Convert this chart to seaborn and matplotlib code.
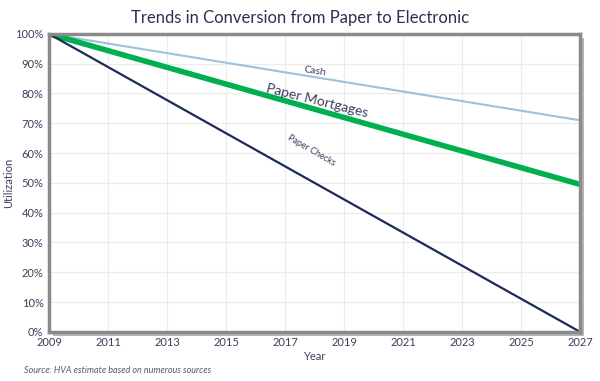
import matplotlib
matplotlib.use("Agg")
import matplotlib.pyplot as plt
import matplotlib.patches as mpatches
import seaborn as sns
import pandas as pd

years = [2009, 2027]
cash = [100, 71]
mortgages = [100, 49.5]
checks = [100, 0]

series_names = ["Cash", "Paper Mortgages", "Paper Checks"]
series_colors = {"Cash": "#9dc0dc", "Paper Mortgages": "#00b050", "Paper Checks": "#1c2a5a"}
series_widths = {"Cash": 1.5, "Paper Mortgages": 4, "Paper Checks": 1.6}

df = pd.DataFrame({
    "Year": years * 3,
    "Utilization": cash + mortgages + checks,
    "Series": [s for s in series_names for _ in years],
})

sns.set_style("white")
plt.rcParams["font.family"] = ["Lato", "DejaVu Sans"]
text_col = "#3a3f5c"

fig = plt.figure(figsize=(6, 3.81), dpi=100)
ax = fig.add_axes([0.0817, 0.129, 0.885, 0.782])

for name in series_names:
    sns.lineplot(data=df[df["Series"] == name], x="Year", y="Utilization", ax=ax,
                 color=series_colors[name], linewidth=series_widths[name], legend=False)

ax.set_xlim(2009, 2027)
ax.set_ylim(0, 100)
ax.set_xticks(range(2009, 2028, 2))
ax.set_yticks(range(0, 101, 10))
ax.set_yticklabels([f"{v}%" for v in range(0, 101, 10)])
ax.grid(True, color="#ebebeb", linewidth=0.8)
ax.tick_params(axis="both", labelsize=8, colors=text_col, length=0, pad=4)
ax.set_xlabel("Year", fontsize=8, color=text_col, labelpad=2)
ax.set_ylabel("Utilization", fontsize=8, color=text_col, labelpad=1)
for sp in ax.spines.values():
    sp.set_color("#8a8a8a")
    sp.set_linewidth(2.5)

# drop shadow behind the plot frame
pos = ax.get_position()
shadow = mpatches.Rectangle((pos.x0 + 0.006, pos.y0 - 0.01), pos.width, pos.height,
                            transform=fig.transFigure, facecolor="#b5b5b5",
                            edgecolor="none", zorder=-1)
fig.patches.append(shadow)

ax.text(2018.0, 87.5, "Cash", fontsize=7.5, color=text_col, rotation=-9,
        ha="center", va="center")
ax.text(2018.1, 77.5, "Paper Mortgages", fontsize=10, color=text_col, rotation=-14,
        ha="center", va="center")
ax.text(2017.9, 61, "Paper Checks", fontsize=6.5, color=text_col, rotation=-30,
        ha="center", va="center")

fig.suptitle("Trends in Conversion from Paper to Electronic", fontsize=12,
             color="#2b3150", y=0.975)
fig.text(0.04, 0.022, "Source: HVA estimate based on numerous sources",
         fontsize=6.5, style="italic", color="#555a6e")

fig.savefig("out.png", dpi=100)
